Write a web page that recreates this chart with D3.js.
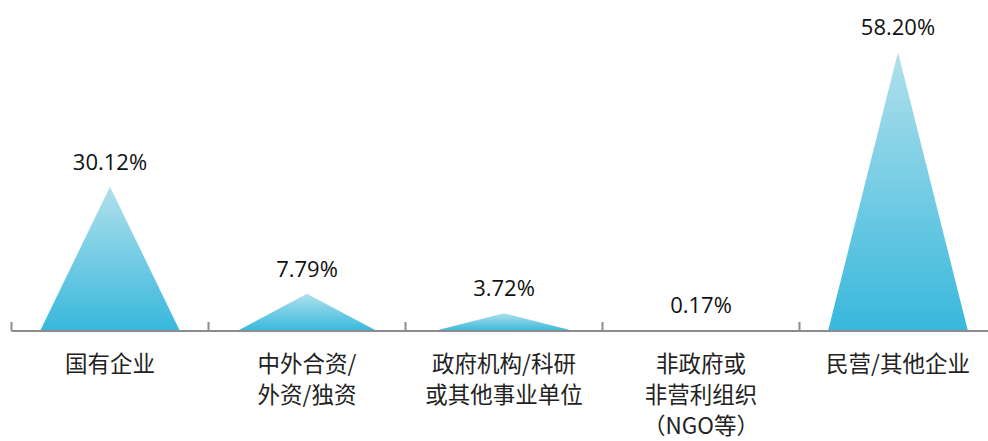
<!DOCTYPE html>
<html><head><meta charset="utf-8">
<script src="https://cdn.jsdelivr.net/npm/d3@7"></script>
<style>body{margin:0;background:#fff}svg{display:block}</style>
</head><body>
<script>
const categories = ["国有企业", "中外合资/外资/独资", "政府机构/科研或其他事业单位", "非政府或非营利组织（NGO等）", "民营/其他企业"];
const categoryLines = [["国有企业"], ["中外合资/", "外资/独资"], ["政府机构/科研", "或其他事业单位"], ["非政府或", "非营利组织", "（NGO等）"], ["民营/其他企业"]];
const values = [30.12, 7.79, 3.72, 0.17, 58.20];
const valueLabels = ["30.12%", "7.79%", "3.72%", "0.17%", "58.20%"];

const W = 988, H = 441;
const svg = d3.select("body").append("svg").attr("width", W).attr("height", H);
const defs = svg.append("defs");
const grad = defs.append("linearGradient").attr("id", "g").attr("x1", 0).attr("y1", 0).attr("x2", 0).attr("y2", 1);
grad.append("stop").attr("offset", "0%").attr("stop-color", "#b0e0ec");
grad.append("stop").attr("offset", "100%").attr("stop-color", "#38b8dc");

const baseY = 331;
const x = d3.scaleBand().domain(categories).range([11.5, 11.5 + 5 * 197]).padding(0);
const y = d3.scaleLinear().domain([0, 60]).range([baseY, baseY - 287.4]);
const halfW = x.bandwidth() * 0.355;

svg.selectAll("path.tri").data(categories).enter().append("path")
  .attr("class", "tri")
  .attr("fill", "url(#g)")
  .attr("d", (c, i) => {
    const cx = x(c) + x.bandwidth() / 2;
    return `M${cx - halfW},${baseY} L${cx},${y(values[i])} L${cx + halfW},${baseY} Z`;
  });

// axis
const axisG = svg.append("g").attr("stroke", "#8c8c8c").attr("stroke-width", 2);
axisG.append("line").attr("x1", x.range()[0]).attr("x2", W).attr("y1", baseY).attr("y2", baseY);
axisG.selectAll("line.tick").data(categories).enter().append("line")
  .attr("class", "tick")
  .attr("x1", c => x(c)).attr("x2", c => x(c))
  .attr("y1", baseY).attr("y2", baseY - 9);

// value labels
svg.selectAll("text.val").data(categories).enter().append("text")
  .attr("class", "val")
  .attr("x", c => x(c) + x.bandwidth() / 2)
  .attr("y", (c, i) => y(values[i]) - 17)
  .attr("text-anchor", "middle")
  .attr("font-family", "'Open Sans', 'Noto Sans', sans-serif")
  .attr("font-size", 22)
  .attr("fill", "#111")
  .text((c, i) => valueLabels[i]);

// category labels
categories.forEach((c, i) => {
  const t = svg.append("text")
    .attr("text-anchor", "middle")
    .attr("font-family", "'Noto Sans CJK SC', sans-serif")
    .attr("font-size", 22.5)
    .attr("fill", "#222");
  categoryLines[i].forEach((ln, j) => {
    t.append("tspan").attr("x", x(c) + x.bandwidth() / 2).attr("y", 372 + j * 31).text(ln);
  });
});
</script>
</body></html>
